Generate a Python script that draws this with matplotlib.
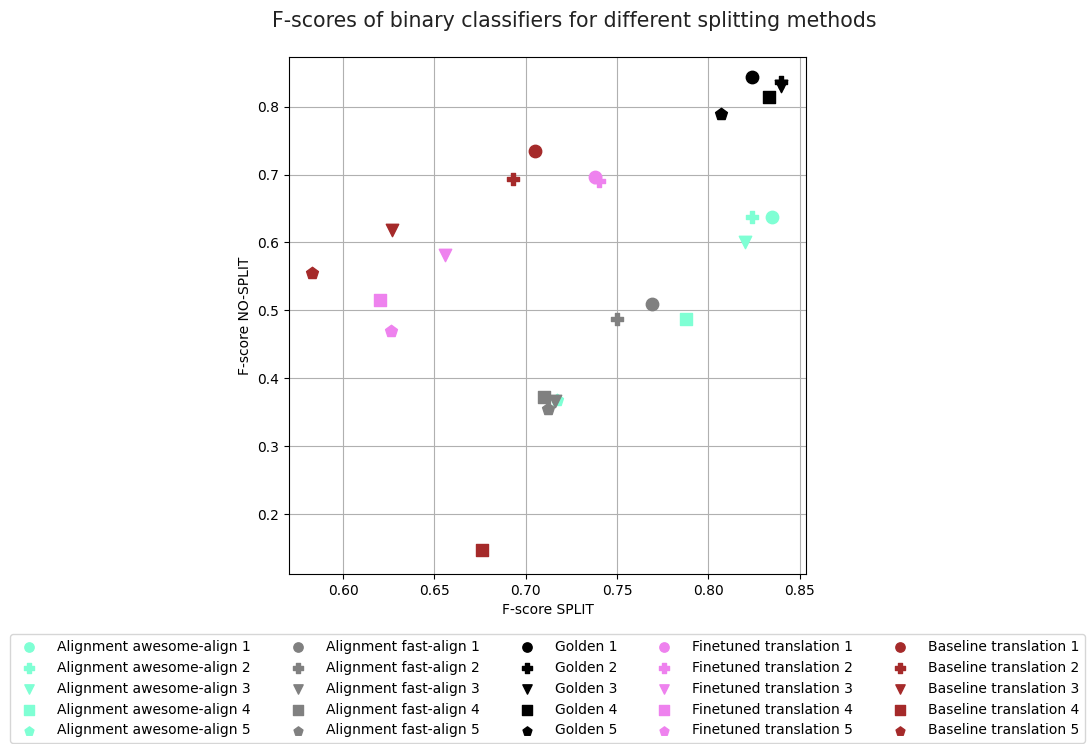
import matplotlib

matplotlib.use("Agg")
import matplotlib.pyplot as plt

# F-scores per system: (split, no-split) for runs 1..5
methods = ["Alignment awesome-align", "Alignment fast-align", "Golden",
           "Finetuned translation", "Baseline translation"]
colors = ["aquamarine", "gray", "black", "violet", "brown"]
markers = ["o", "P", "v", "s", "p"]

split_awesome = [0.835, 0.824, 0.820, 0.788, 0.717]
nosplit_awesome = [0.638, 0.637, 0.600, 0.487, 0.368]
split_fast = [0.769, 0.750, 0.716, 0.710, 0.712]
nosplit_fast = [0.509, 0.487, 0.367, 0.373, 0.355]
split_golden = [0.824, 0.840, 0.840, 0.833, 0.807]
nosplit_golden = [0.843, 0.836, 0.830, 0.814, 0.789]
split_finetuned = [0.738, 0.740, 0.656, 0.620, 0.626]
nosplit_finetuned = [0.697, 0.690, 0.581, 0.515, 0.470]
split_baseline = [0.705, 0.693, 0.627, 0.676, 0.583]
nosplit_baseline = [0.734, 0.693, 0.618, 0.148, 0.555]

splits = [split_awesome, split_fast, split_golden, split_finetuned, split_baseline]
nosplits = [nosplit_awesome, nosplit_fast, nosplit_golden, nosplit_finetuned, nosplit_baseline]

fig = plt.figure(figsize=(10.87, 7.44), dpi=100)
ax = fig.add_axes([0.266, 0.2285, 0.4756, 0.6949])

for name, col, xs, ys in zip(methods, colors, splits, nosplits):
    for i, (x, y) in enumerate(zip(xs, ys)):
        ax.scatter(x, y, c=col, marker=markers[i], s=80, label=f"{name} {i + 1}")

ax.set_xlim(0.5705, 0.8535)
ax.set_ylim(0.112, 0.873)
ax.set_xticks([0.60, 0.65, 0.70, 0.75, 0.80, 0.85])
ax.set_yticks([0.2, 0.3, 0.4, 0.5, 0.6, 0.7, 0.8])
ax.grid(True, color="#b0b0b0", lw=0.8)
ax.set_axisbelow(True)
ax.set_xlabel("F-score SPLIT")
ax.set_ylabel("F-score NO-SPLIT")

fig.suptitle("F-scores of binary classifiers for different splitting methods",
             fontsize=14.8, x=0.528, y=0.985, color="#222222")
fig.legend(loc="upper center", bbox_to_anchor=(0.5037, 0.157), ncol=5,
           fontsize=10, markerscale=0.75, handletextpad=1.0, columnspacing=2.4)

fig.savefig("out.png", dpi=100)
